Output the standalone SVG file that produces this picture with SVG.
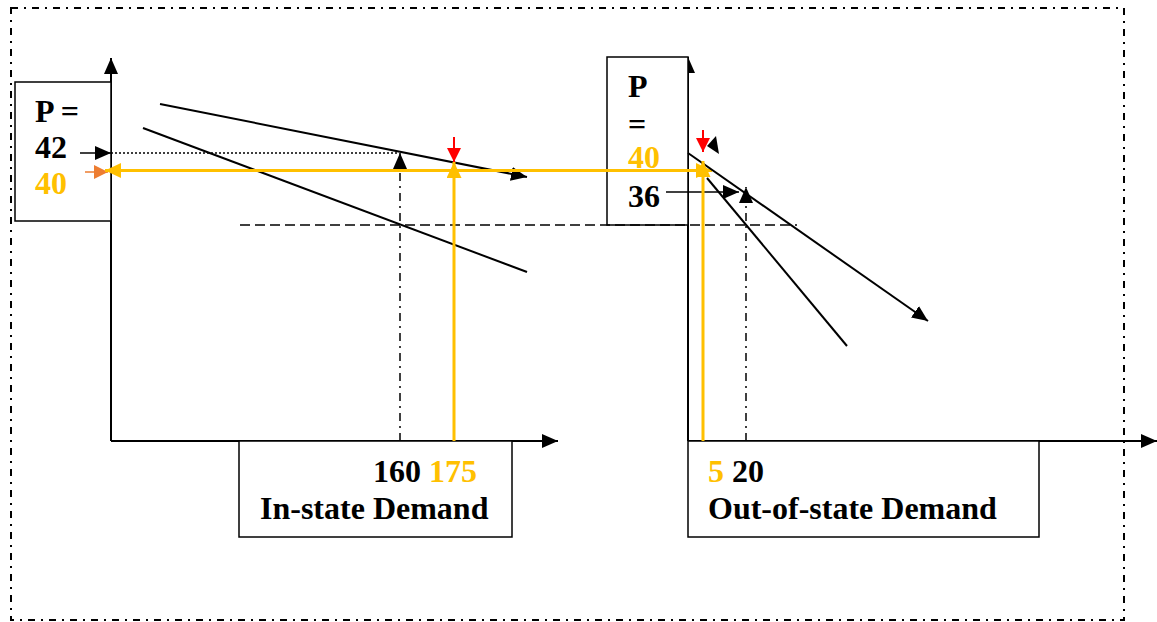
<svg xmlns="http://www.w3.org/2000/svg" width="1157" height="622" viewBox="0 0 1157 622">
<style>
.t{font-family:"Liberation Serif","Times New Roman",serif;font-weight:bold;font-size:32px;fill:#000}
.y{fill:#FFC000}
.box{fill:#fff;stroke:#000;stroke-width:1.5}
.ax{stroke:#000;stroke-width:2;fill:none}
.ln{stroke:#000;stroke-width:2;fill:none}
.thin{stroke:#000;stroke-width:1.5;fill:none}
.yl{stroke:#FFC000;stroke-width:3;fill:none}
</style>
<defs>
<marker id="ak" markerUnits="userSpaceOnUse" viewBox="0 0 16 14" refX="16" refY="7" markerWidth="16" markerHeight="14" orient="auto"><path d="M0,0 L16,7 L0,14 z" fill="#000"/></marker>
<marker id="ay" markerUnits="userSpaceOnUse" viewBox="0 0 16 15" refX="16" refY="7.5" markerWidth="16" markerHeight="15" orient="auto"><path d="M0,0 L16,7.5 L0,15 z" fill="#FFC000"/></marker>
<marker id="ao" markerUnits="userSpaceOnUse" viewBox="0 0 14 14" refX="14" refY="7" markerWidth="14" markerHeight="14" orient="auto"><path d="M0,0 L14,7 L0,14 z" fill="#ED7D31"/></marker>
<marker id="ar" markerUnits="userSpaceOnUse" viewBox="0 0 14 14" refX="14" refY="7" markerWidth="14" markerHeight="14" orient="auto"><path d="M0,0 L14,7 L0,14 z" fill="#FF0000"/></marker>
</defs>
<rect width="1157" height="622" fill="#fff"/>
<g id="border">
<rect x="11" y="8" width="1113" height="612" fill="none" stroke="#000" stroke-width="2" stroke-dasharray="7 6 2 6"/>
</g>
<g id="axes">
<line class="ax" x1="111" y1="441" x2="111" y2="58" marker-end="url(#ak)"/>
<line class="ax" x1="111" y1="441" x2="558" y2="441" marker-end="url(#ak)"/>
<line class="ax" x1="688" y1="441" x2="688" y2="57" marker-end="url(#ak)"/>
<line class="ax" x1="688" y1="441" x2="1157" y2="441" marker-end="url(#ak)"/>
</g>
<g id="left-price-box">
<rect class="box" x="15" y="82" width="96" height="139"/>
<text class="t" x="35" y="122">P =</text>
<text class="t" x="35" y="158">42</text>
<text class="t y" x="35" y="194">40</text>
</g>
<g id="in-state-box">
<rect class="box" x="239" y="441" width="273" height="96"/>
<text class="t" x="373" y="482">160 <tspan class="y">175</tspan></text>
<text class="t" x="260" y="519">In-state Demand</text>
</g>
<g id="right-price-box">
<rect class="box" x="607" y="57" width="81" height="168"/>
<text class="t" x="628" y="97">P</text>
<text class="t" x="628" y="135">=</text>
<text class="t y" x="628" y="168">40</text>
<text class="t" x="628" y="207">36</text>
</g>
<g id="out-state-box">
<rect class="box" x="688" y="441" width="351" height="96"/>
<text class="t" x="708" y="482"><tspan class="y">5</tspan> 20</text>
<text class="t" x="708" y="519">Out-of-state Demand</text>
</g>
<g id="connectors">
<line class="thin" x1="240" y1="225" x2="797" y2="225" stroke-dasharray="10 5"/>
<line class="thin" x1="111" y1="153" x2="398" y2="153" stroke-dasharray="2 2"/>
<line class="ln" x1="160" y1="104" x2="527" y2="177" marker-end="url(#ak)"/>
<line class="ln" x1="143" y1="128" x2="527" y2="272"/>
<line class="thin" x1="400" y1="441" x2="400" y2="153" stroke-dasharray="8 5 2 5" marker-end="url(#ak)"/>
<line class="thin" x1="80" y1="153" x2="111" y2="153" marker-end="url(#ak)"/>
<line stroke="#ED7D31" stroke-width="1.5" x1="85" y1="172" x2="108" y2="172" marker-end="url(#ao)"/>
<line class="yl" x1="454" y1="441" x2="454" y2="162" marker-end="url(#ay)"/>
<line stroke="#FF0000" stroke-width="2" x1="454" y1="137" x2="454" y2="162" marker-end="url(#ar)"/>
<line class="yl" x1="400" y1="170.5" x2="105" y2="170.5" marker-end="url(#ay)"/>
<line class="yl" x1="399" y1="170.5" x2="712" y2="170.5" marker-end="url(#ay)"/>
<line class="ln" x1="688" y1="153" x2="928" y2="321" marker-end="url(#ak)"/>
<line class="ln" x1="707" y1="178" x2="847" y2="346"/>
<line class="thin" x1="746" y1="441" x2="746" y2="187" stroke-dasharray="8 5 2 5" marker-end="url(#ak)"/>
<line class="thin" x1="666" y1="192" x2="739" y2="192" marker-end="url(#ak)"/>
<line class="yl" x1="703" y1="441" x2="703" y2="161" marker-end="url(#ay)"/>
<line stroke="#FF0000" stroke-width="2" x1="703" y1="130" x2="703" y2="152" marker-end="url(#ar)"/>
<path d="M707,146 L716,136 L719,154 z" fill="#000"/>
</g>
</svg>
